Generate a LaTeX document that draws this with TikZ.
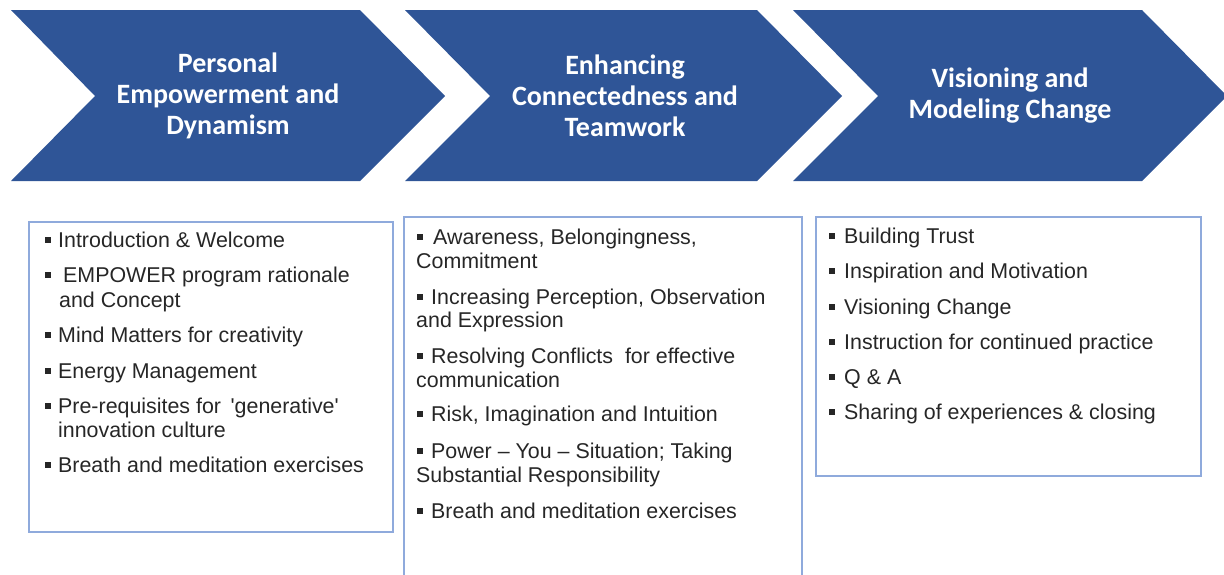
\documentclass[tikz,border=0pt]{standalone}
\usepackage{fontspec}
\setmainfont{Liberation Sans}
\newfontfamily\titlefont{Carlito}
\definecolor{chev}{RGB}{47,85,151}
\definecolor{boxline}{RGB}{143,170,220}
\definecolor{txt}{RGB}{38,38,38}
\begin{document}
\begin{tikzpicture}[x=1pt,y=-1pt,
  chevron/.style={fill=chev,draw=none},
  title/.style={text=white,font=\titlefont\bfseries\fontsize{28}{31}\selectfont,align=center,inner sep=0pt},
  panel/.style={draw=boxline,line width=1.5pt},
  item/.style={anchor=base west,inner sep=0pt,text=txt,font=\fontsize{21.4}{25}\selectfont},
  bul/.style={fill=txt}]
\useasboundingbox (0,0) rectangle (1224,574);
\clip (0,0) rectangle (1224,574);
% chevrons
\fill[chevron] (11,10) -- (360,10) -- (445,96) -- (360,181) -- (11,181) -- (95,96) -- cycle;
\fill[chevron] (405,10) -- (757,10) -- (842,96) -- (757,181) -- (405,181) -- (490,96) -- cycle;
\fill[chevron] (793,10) -- (1142,10) -- (1227,96) -- (1142,181) -- (793,181) -- (878,96) -- cycle;
\node[title] (t1) at (228,95.5) {Personal\\Empowerment and\\Dynamism};
\node[title] (t2) at (625,95.5) {Enhancing\\Connectedness and\\Teamwork};
\node[title] (t3) at (1010,95.5) {Visioning and\\Modeling Change};
% panels
\draw[panel] (29,222) rectangle (393,532);
\draw[panel] (404,580) -- (404,217) -- (802,217) -- (802,580);
\draw[panel] (816,217) rectangle (1201,476);
% panel 1
\foreach \y in {247.5,282.5,342.5,378.5,413.5,472.5}
  \fill[bul] (45,\y-10.3) rectangle ++(6.2,6.2);
\node[item] (a1) at (58,247.5) {Introduction \& Welcome};
\node[item] (a2) at (63,282.5) {EMPOWER program rationale};
\node[item] (a2b) at (59,307.5) {and Concept};
\node[item] (a3) at (58,342.5) {Mind Matters for creativity};
\node[item] (a4) at (58,378.5) {Energy Management};
\node[item] (a5) at (58,413.5) {Pre-requisites for \,\textquotesingle generative\textquotesingle};
\node[item] (a5b) at (58,437.5) {innovation culture};
\node[item] (a6) at (58,472.5) {Breath and meditation exercises};
% panel 2
\foreach \y in {244.5,304.5,363.5,421.5,458.5,518.5}
  \fill[bul] (417,\y-10.3) rectangle ++(6.2,6.2);
\node[item] (b1) at (433,244.5) {Awareness, Belongingness,};
\node[item] (b1b) at (416,268.5) {Commitment};
\node[item] (b2) at (431,304.5) {Increasing Perception, Observation};
\node[item] (b2b) at (416,327.5) {and Expression};
\node[item] (b3) at (431,363.5) {Resolving Conflicts \ for effective};
\node[item] (b3b) at (416,387.5) {communication};
\node[item] (b4) at (431,421.5) {Risk, Imagination and Intuition};
\node[item] (b5) at (431,458.5) {Power -- You -- Situation; Taking};
\node[item] (b5b) at (416,482.5) {Substantial Responsibility};
\node[item] (b6) at (431,518.5) {Breath and meditation exercises};
% panel 3
\foreach \y in {243.5,278.5,314.5,349.5,384.5,419.5}
  \fill[bul] (829,\y-10.3) rectangle ++(6.2,6.2);
\node[item] (c1) at (844,243.5) {Building Trust};
\node[item] (c2) at (844,278.5) {Inspiration and Motivation};
\node[item] (c3) at (844,314.5) {Visioning Change};
\node[item] (c4) at (844,349.5) {Instruction for continued practice};
\node[item] (c5) at (844,384.5) {Q \& A};
\node[item] (c6) at (844,419.5) {Sharing of experiences \& closing};
\end{tikzpicture}
\end{document}
